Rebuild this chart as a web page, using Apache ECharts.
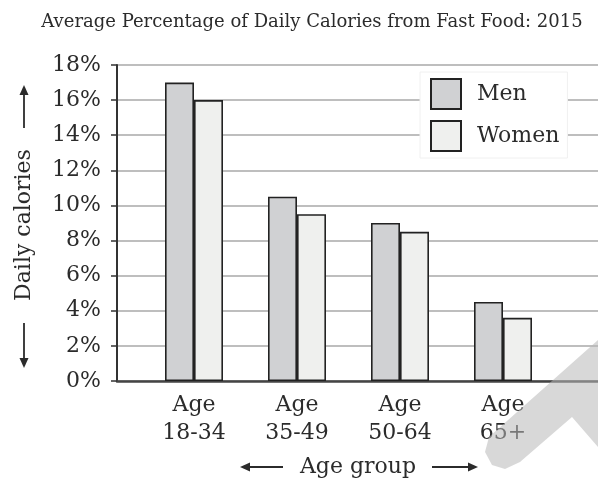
<!DOCTYPE html>
<html>
<head>
<meta charset="utf-8">
<script src="https://cdn.jsdelivr.net/npm/echarts@6/dist/echarts.min.js"></script>
<style>
  html, body { margin: 0; padding: 0; background: #fff; }
  #main { width: 598px; height: 480px; }
</style>
</head>
<body>
<div id="main"></div>
<script>
const categories = ['Age\n18-34', 'Age\n35-49', 'Age\n50-64', 'Age\n65+']
const menValues = [17, 10.5, 9, 4.5]
const womenValues = [16, 9.5, 8.5, 3.6]
const yTicks = [0, 2, 4, 6, 8, 10, 12, 14, 16, 18]

const serif = 'DejaVu Serif'
const ink = '#2b2b2b'

const chart = echarts.init(document.getElementById('main'))

// arrow helper: shaft + head (decoration only)
function arrow (x1, y1, x2, y2) {
  const ang = Math.atan2(y2 - y1, x2 - x1)
  const hl = 10, hw = 4.5
  const bx = x2 - hl * Math.cos(ang), by = y2 - hl * Math.sin(ang)
  const px = -Math.sin(ang) * hw, py = Math.cos(ang) * hw
  return [
    { type: 'line', shape: { x1: x1, y1: y1, x2: bx, y2: by }, style: { stroke: ink, lineWidth: 1.8 } },
    { type: 'polygon', shape: { points: [[x2, y2], [bx + px, by + py], [bx - px, by - py]] }, style: { fill: ink } }
  ]
}

const option = {
  animation: false,
  backgroundColor: '#fff',
  title: {
    text: 'Average Percentage of Daily Calories from Fast Food: 2015',
    left: 307,
    textAlign: 'center',
    top: 8,
    textStyle: { fontFamily: serif, fontSize: 18, fontWeight: 'normal', color: ink }
  },
  legend: {
    orient: 'vertical',
    left: 420,
    top: 72,
    itemWidth: 30,
    itemHeight: 30,
    itemGap: 10,
    padding: [6, 8, 6, 10],
    backgroundColor: '#fff',
    borderColor: '#f0f0f0',
    borderWidth: 1,
    icon: 'rect',
    textStyle: { fontFamily: serif, fontSize: 22, color: ink, padding: [0, 0, 0, 11] },
    data: ['Men', 'Women']
  },
  grid: [
    { left: 117, right: 0, top: 65, bottom: 99 },
    { left: 142.5, right: 43.5, top: 65, bottom: 99 }
  ],
  xAxis: [
    {
      gridIndex: 0, type: 'value', min: 0, max: 1,
      axisLine: { show: true, onZero: false, lineStyle: { color: '#444', width: 2.5 } },
      axisTick: { show: false }, axisLabel: { show: false }, splitLine: { show: false }
    },
    {
      gridIndex: 1, type: 'category', data: categories,
      axisLine: { show: false }, axisTick: { show: false },
      axisLabel: { fontFamily: serif, fontSize: 22, color: ink, lineHeight: 28, margin: 10 }
    }
  ],
  yAxis: [
    {
      gridIndex: 0, type: 'value', min: yTicks[0], max: yTicks[yTicks.length - 1], interval: 2,
      axisLine: { show: true, lineStyle: { color: '#333', width: 2 } },
      axisTick: { show: true, length: 6, lineStyle: { color: '#333', width: 1.5 } },
      axisLabel: { formatter: '{value}%', fontFamily: serif, fontSize: 22, color: ink, margin: 16 },
      splitLine: { show: true, lineStyle: { color: '#a8a8a8', width: 1.6 } }
    },
    {
      gridIndex: 1, type: 'value', min: yTicks[0], max: yTicks[yTicks.length - 1], interval: 2,
      show: false
    }
  ],
  series: [
    {
      name: 'Men', type: 'bar', xAxisIndex: 1, yAxisIndex: 1,
      data: menValues, barWidth: 29, barGap: '0%',
      itemStyle: { color: '#d0d1d3', borderColor: '#222', borderWidth: 1.6 }
    },
    {
      name: 'Women', type: 'bar', xAxisIndex: 1, yAxisIndex: 1,
      data: womenValues, barWidth: 29,
      itemStyle: { color: '#eff0ee', borderColor: '#222', borderWidth: 1.6 }
    }
  ],
  graphic: [
    {
      type: 'text', x: 24, y: 225, rotation: Math.PI / 2,
      style: { text: 'Daily calories', font: '22px ' + serif, fill: ink, align: 'center', verticalAlign: 'middle' }
    },
    ...arrow(24, 128, 24, 85),
    ...arrow(24, 323, 24, 368),
    {
      type: 'text', x: 358, y: 467,
      style: { text: 'Age group', font: '22px ' + serif, fill: ink, align: 'center', verticalAlign: 'middle' }
    },
    ...arrow(283, 467, 240, 467),
    ...arrow(432, 467, 478, 467),
    {
      // faint watermark in the lower right corner
      type: 'polygon', z: 100,
      shape: { points: [[598, 340], [489, 437], [485, 452], [492, 465], [505, 469], [520, 462], [572, 417], [598, 447]] },
      style: { fill: '#b8b8b8', opacity: 0.55 }
    }
  ]
}

chart.setOption(option)
</script>
</body>
</html>
